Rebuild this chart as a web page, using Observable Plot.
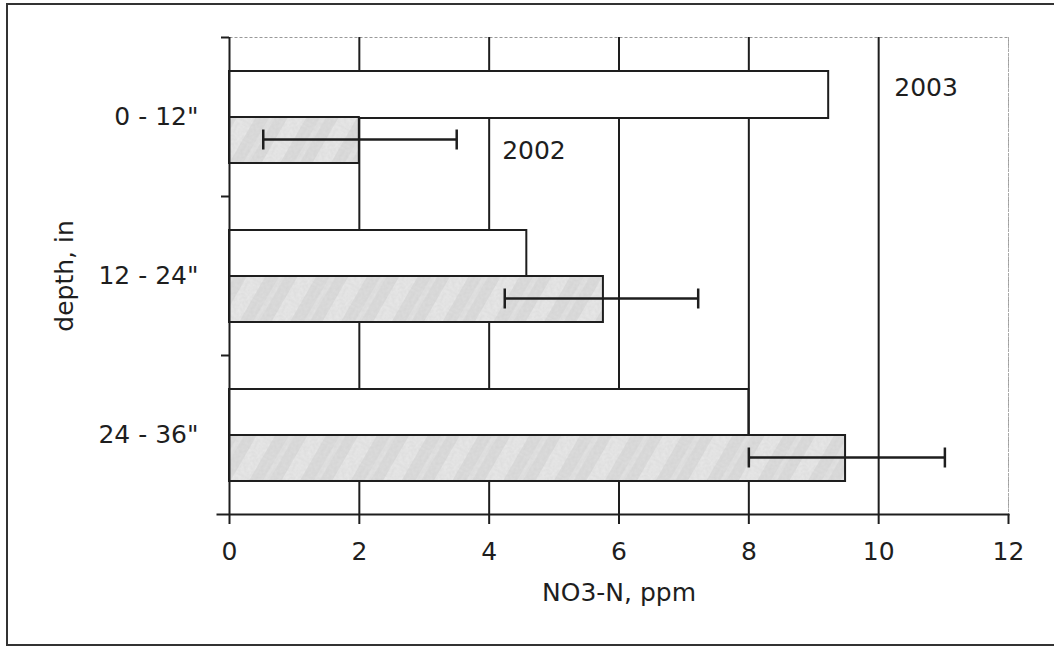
<!DOCTYPE html>
<html>
<head>
<meta charset="utf-8">
<script src="https://cdn.jsdelivr.net/npm/d3@7"></script>
<script src="https://cdn.jsdelivr.net/npm/@observablehq/plot@0.6"></script>
<style>
  html, body { margin: 0; padding: 0; background: #fff; overflow: hidden; }
  #wrap { position: relative; width: 1054px; height: 651px; overflow: hidden; }
  #frame { position: absolute; left: 6px; top: 3px; width: 1100px; height: 643px;
           border: 2px solid #333; pointer-events: none; box-sizing: border-box; }
</style>
</head>
<body>
<svg width="0" height="0" style="position:absolute">
  <defs>
    <filter id="grain" x="0" y="0" width="100%" height="100%">
      <feTurbulence type="fractalNoise" baseFrequency="0.35" numOctaves="2" seed="4" result="noise"></feTurbulence>
      <feColorMatrix in="noise" type="matrix" values="0 0 0 0 0.55  0 0 0 0 0.55  0 0 0 0 0.55  0 0 0 0.45 -0.05" result="dots"></feColorMatrix>
      <feComposite in="dots" in2="SourceGraphic" operator="over"></feComposite>
    </filter>
    <pattern id="speckle" patternUnits="userSpaceOnUse" width="44" height="44" patternTransform="rotate(30)">
      <g filter="url(#grain)">
        <rect width="44" height="44" fill="#dcdcdc"></rect>
        <rect x="0" y="0" width="16" height="44" fill="#e8e8e8"></rect>
        <rect x="28" y="0" width="5" height="44" fill="#e3e3e3"></rect>
      </g>
    </pattern>
  </defs>
</svg>
<div id="wrap"><div id="frame"></div></div>
<script>
const depths = ['0 - 12"', '12 - 24"', '24 - 36"'];
const no3_2003 = [9.23, 4.58, 8.0];
const no3_2002 = [2.0, 5.76, 9.49];
const err2002Low = [0.52, 4.24, 8.0];
const err2002High = [3.5, 7.22, 11.02];
const xTicks = [0, 2, 4, 6, 8, 10, 12];
const gridTicks = [2, 4, 6, 8, 10];
const seriesLabels = ["2003", "2002"];
const seriesLabelX = [10.24, 4.2];
const seriesLabelDepth = [depths[0], depths[0]];

const d2003 = depths.map((d, i) => ({depth: d, value: no3_2003[i]}));
const d2002 = depths.map((d, i) => ({depth: d, value: no3_2002[i], lo: err2002Low[i], hi: err2002High[i]}));
const label2003 = [{text: seriesLabels[0], x: seriesLabelX[0], depth: seriesLabelDepth[0]}];
const label2002 = [{text: seriesLabels[1], x: seriesLabelX[1], depth: seriesLabelDepth[1]}];

const ink = "#1e1e1e";

const chart = Plot.plot({
  width: 1054,
  height: 651,
  marginLeft: 229,
  marginRight: 46,
  marginTop: 37,
  marginBottom: 137,
  style: {fontFamily: "'DejaVu Sans', sans-serif", fontSize: "25px", color: ink, background: "transparent"},
  x: {domain: [0, 12]},
  y: {domain: depths, paddingInner: 0, paddingOuter: 0},
  marks: [
    Plot.frame({stroke: "#999", strokeWidth: 1, strokeDasharray: "3,2"}),
    Plot.ruleX(gridTicks, {stroke: ink, strokeWidth: 2}),
    Plot.ruleX([12], {stroke: "#aaa", strokeWidth: 1, strokeDasharray: "3,1"}),
    Plot.barX(d2003, {x1: 0, x2: "value", y: "depth", fill: "white", stroke: ink, strokeWidth: 2, insetTop: 34, insetBottom: 78}),
    Plot.barX(d2002, {x1: 0, x2: "value", y: "depth", fill: "url(#speckle)", stroke: ink, strokeWidth: 2, insetTop: 80, insetBottom: 33}),
    Plot.ruleY(d2002, {x1: "lo", x2: "hi", y: "depth", dy: 22.5, stroke: ink, strokeWidth: 2.5}),
    Plot.tickX(d2002, {x: "lo", y: "depth", insetTop: 92.5, insetBottom: 46.5, stroke: ink, strokeWidth: 2.5}),
    Plot.tickX(d2002, {x: "hi", y: "depth", insetTop: 92.5, insetBottom: 46.5, stroke: ink, strokeWidth: 2.5}),
    Plot.ruleX([0], {stroke: ink, strokeWidth: 2}),
    Plot.frame({anchor: "bottom", stroke: ink, strokeWidth: 2, insetLeft: -12}),
    Plot.axisY({tickSize: 8, tickFormat: () => "", dy: -79.5, stroke: ink, strokeWidth: 2, label: null}),
    Plot.axisY({tickSize: 0, tickPadding: 31, fontSize: 25, fill: ink, label: "depth, in", labelAnchor: "center", labelOffset: 174, labelArrow: false}),
    Plot.axisX({ticks: xTicks, tickSize: 10, tickPadding: 18, fontSize: 25, fill: ink, stroke: ink, strokeWidth: 2, label: "NO3-N, ppm", labelAnchor: "center", labelOffset: 86, labelArrow: false}),
    Plot.text(label2003, {x: "x", y: "depth", text: "text", dy: -29, textAnchor: "start", fontSize: 25, fill: ink}),
    Plot.text(label2002, {x: "x", y: "depth", text: "text", dy: 33.5, textAnchor: "start", fontSize: 25, fill: ink})
  ]
});
document.getElementById("wrap").prepend(chart);
</script>
</body>
</html>
